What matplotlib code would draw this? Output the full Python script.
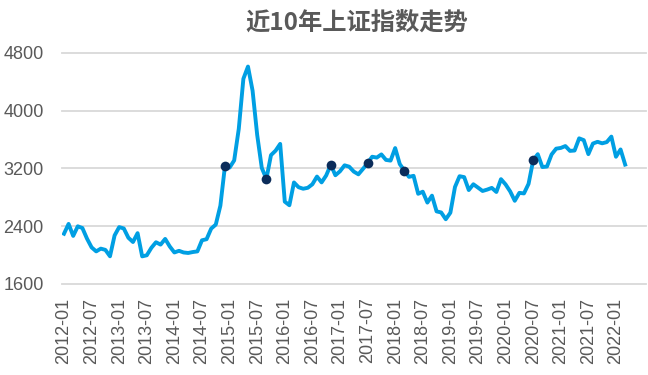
import matplotlib
matplotlib.use("Agg")
import matplotlib.pyplot as plt

plt.rcParams['font.family'] = ['Liberation Sans', 'Noto Sans CJK SC', 'DejaVu Sans']

# Monthly closes of the index, 2012-01 .. 2022-03 (category axis runs a few months further)
values = [
    2293, 2429, 2263, 2396, 2372, 2225, 2104, 2048, 2086, 2069, 1980, 2269,  # 2012
    2385, 2366, 2237, 2178, 2301, 1979, 1994, 2098, 2175, 2142, 2221, 2116,  # 2013
    2033, 2056, 2033, 2026, 2039, 2048, 2202, 2217, 2364, 2420, 2683, 3235,  # 2014
    3210, 3310, 3748, 4442, 4612, 4277, 3664, 3206, 3053, 3383, 3445, 3539,  # 2015
    2738, 2688, 3004, 2938, 2917, 2930, 2979, 3086, 3005, 3101, 3250, 3104,  # 2016
    3159, 3242, 3223, 3155, 3117, 3192, 3273, 3361, 3349, 3393, 3317, 3307,  # 2017
    3481, 3259, 3169, 3082, 3096, 2847, 2876, 2725, 2821, 2603, 2588, 2494,  # 2018
    2585, 2941, 3091, 3078, 2899, 2979, 2933, 2886, 2905, 2929, 2872, 3050,  # 2019
    2977, 2880, 2750, 2860, 2852, 2985, 3310, 3396, 3218, 3225, 3392, 3473,  # 2020
    3483, 3509, 3442, 3447, 3616, 3591, 3397, 3544, 3568, 3547, 3564, 3640,  # 2021
    3361, 3462, 3252,                                                        # 2022
]
categories = [f"{y}-{m:02d}" for y in range(2012, 2023) for m in range(1, 13)][:127]
tick_labels = [f"{y}-{m:02d}" for y in range(2012, 2023) for m in (1, 7)][:21]
highlight = ["2014-12", "2015-09", "2016-11", "2017-07", "2018-03", "2020-07"]
y_ticks = [1600, 2400, 3200, 4000, 4800]
title = "近10年上证指数走势"

line_color = "#009FE3"
dot_color = "#0B2C5A"
text_color = "#595959"
grid_color = "#D9D9D9"

fig = plt.figure(figsize=(6.48, 3.75), dpi=100)
ax = fig.add_axes([0.0952, 0.2435, 0.9015, 0.6152])

x = list(range(len(values)))
ax.plot(x, values, color=line_color, lw=2.8, solid_joinstyle='round', zorder=3)
hx = [categories.index(c) for c in highlight]
hy = [values[i] for i in hx]
ax.plot(hx, hy, 'o', color=dot_color, ms=7, zorder=4, markeredgewidth=0)

ax.set_xlim(-0.5, len(categories) - 0.5)
ax.set_ylim(1600, 4800)
ax.set_yticks(y_ticks)
ax.set_yticklabels([str(v) for v in y_ticks], color=text_color, fontsize=13)
tick_idx = [categories.index(t) for t in tick_labels]
ax.set_xticks(tick_idx)
ax.set_xticklabels(tick_labels, rotation=90, color=text_color, fontsize=13)
ax.tick_params(axis='both', length=0)
ax.tick_params(axis='y', pad=13)
ax.tick_params(axis='x', pad=10)
for s in ax.spines.values():
    s.set_visible(False)
for v in y_ticks:
    ax.axhline(v, color=grid_color, lw=1.3, zorder=1, clip_on=False)

fig.text(0.55, 0.938, title, ha='center', va='center', fontsize=17.5,
         fontweight='bold', color=text_color,
         family=['Noto Sans CJK SC', 'DejaVu Sans'])

fig.savefig("out.png", dpi=100)
